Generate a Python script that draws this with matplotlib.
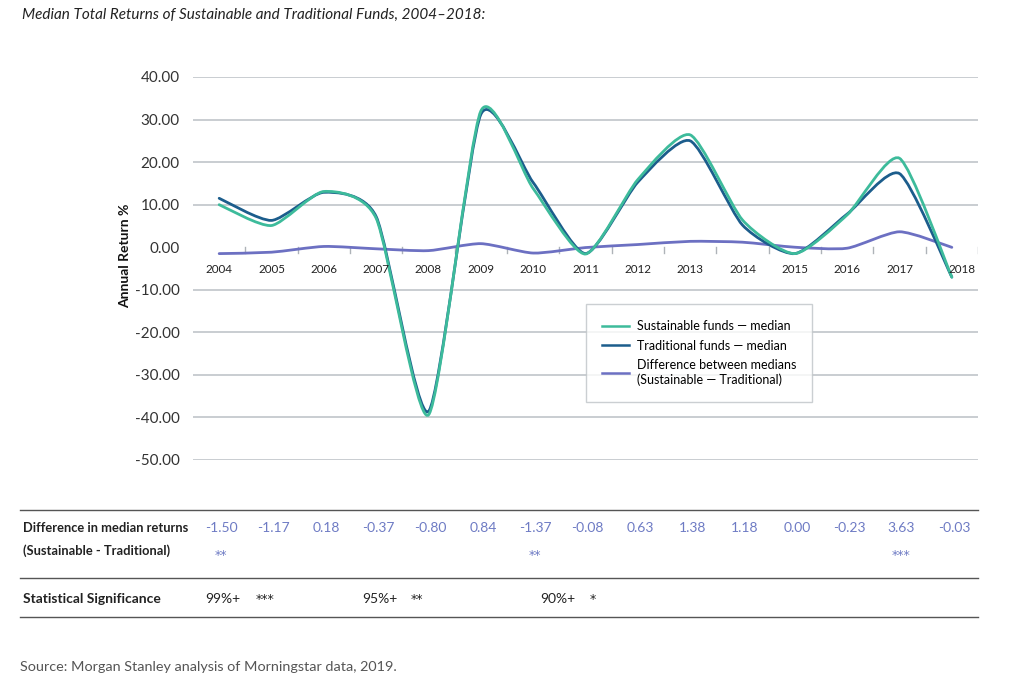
import numpy as np
import matplotlib
matplotlib.use("Agg")
import matplotlib.pyplot as plt
from matplotlib.path import Path
from matplotlib.patches import PathPatch
from matplotlib.lines import Line2D

plt.rcParams['font.family'] = ['Lato', 'DejaVu Sans']

# Data
years = [str(y) for y in range(2004, 2019)]
sustainable = [10.0, 5.1, 13.1, 6.8, -39.4, 32.0, 13.8, -1.6, 15.9, 26.4, 6.4, -1.5, 7.6, 20.9, -7.05]
traditional = [11.5, 6.3, 12.9, 7.2, -38.6, 31.2, 15.2, -1.5, 15.3, 25.0, 5.2, -1.5, 7.8, 17.3, -7.02]
difference = [-1.50, -1.17, 0.18, -0.37, -0.80, 0.84, -1.37, -0.08, 0.63, 1.38, 1.18, 0.00, -0.23, 3.63, -0.03]
diff_stars = ["**", "", "", "", "", "", "**", "", "", "", "", "", "", "***", ""]
yticks = [40, 30, 20, 10, 0, -10, -20, -30, -40, -50]

TEAL = "#3dbb9b"
NAVY = "#1c5d8c"
PURPLE = "#6c70c2"
VALUE_BLUE = "#6e7bc4"
GRID = "#c9cdd1"
TEXT = "#222222"


def smooth_path(xs, ys, k=0.11):
    # smoothed line: cubic Bezier segments through every point
    pts = np.column_stack([xs, ys]).astype(float)
    n = len(pts)
    verts = [pts[0]]
    codes = [Path.MOVETO]
    for i in range(n - 1):
        p0 = pts[i - 1] if i > 0 else pts[i]
        p1, p2 = pts[i], pts[i + 1]
        p3 = pts[i + 2] if i + 2 < n else pts[i + 1]
        c1 = p1 + (p2 - p0) * k
        c2 = p2 - (p3 - p1) * k
        verts += [c1, c2, p2]
        codes += [Path.CURVE4] * 3
    return Path(verts, codes)


fig = plt.figure(figsize=(10.24, 6.84), dpi=100)
ax = fig.add_axes([193 / 1024, 1 - 460 / 684, (978 - 193) / 1024, (460 - 77) / 684])

x = np.arange(len(years))
ax.set_xlim(-0.5, len(years) - 0.5)
ax.set_ylim(-50, 40)

for yv in yticks:
    if yv != 0:
        ax.axhline(yv, color=GRID, lw=1.4, zorder=1)

for series, color in [(difference, PURPLE), (traditional, NAVY), (sustainable, TEAL)]:
    ax.add_patch(PathPatch(smooth_path(x, series), facecolor="none",
                           edgecolor=color, lw=2.0, zorder=3, capstyle="round"))

for s in ax.spines.values():
    s.set_visible(False)
ax.set_yticks(yticks)
ax.set_yticklabels([f"{v:.2f}" for v in yticks], fontsize=11, color="#333333")
ax.tick_params(axis="y", length=0, pad=9.5)
ax.set_xticks([])

# category tick marks hanging from the zero line, and year labels below
for i in range(1, len(years) + 1):
    ax.plot([i - 0.5, i - 0.5], [0, -1.4], color="#aeb3b8", lw=1, zorder=2)
for i, yr in enumerate(years):
    ax.text(i + 0.2 if yr == "2018" else i, -5.2, yr, ha="center", va="center",
            fontsize=8.4, color=TEXT)

fig.text(125 / 1024, 1 - 256 / 684, "Annual Return %", rotation=90, ha="center",
         va="center", fontsize=10, fontweight="bold", color="#111111")

handles = [Line2D([], [], color=TEAL, lw=1.8), Line2D([], [], color=NAVY, lw=1.8),
           Line2D([], [], color=PURPLE, lw=1.8)]
labels = ["Sustainable funds \u2014 median", "Traditional funds \u2014 median",
          "Difference between medians\n(Sustainable \u2014 Traditional)"]
leg = ax.legend(handles, labels, loc="upper left", bbox_to_anchor=(0.50, 0.407),
                frameon=True, fancybox=False, fontsize=9, handlelength=2.2,
                handletextpad=0.6, borderpad=1.3, labelspacing=0.6,
                borderaxespad=0)
leg.get_frame().set_edgecolor("#bfc3c7")
leg.get_frame().set_linewidth(1.0)
leg.set_zorder(5)

fig.text(22 / 1024, 1 - 15 / 684, "Median Total Returns of Sustainable and Traditional Funds, 2004\u20132018:",
         fontsize=11, style="italic", color=TEXT, va="center")

# table under the chart
for yl in [510, 578, 617]:
    fig.add_artist(Line2D([20 / 1024, 978 / 1024], [1 - yl / 684] * 2, color="#555555", lw=1))

fig.text(23 / 1024, 1 - 528 / 684, "Difference in median returns", fontsize=9.3,
         fontweight="bold", color=TEXT, va="center")
fig.text(23 / 1024, 1 - 551 / 684, "(Sustainable - Traditional)", fontsize=9.3,
         fontweight="bold", color=TEXT, va="center")
for i, (d, st) in enumerate(zip(difference, diff_stars)):
    xf = (193 + (i + 0.5) * 785 / 15 + 2) / 1024
    fig.text(xf, 1 - 528 / 684, f"{d:.2f}", fontsize=10, color=VALUE_BLUE,
             ha="center", va="center")
    if st:
        fig.text(xf, 1 - 555 / 684, st, fontsize=9, color=VALUE_BLUE,
                 ha="center", va="center", family="DejaVu Sans")

fig.text(23 / 1024, 1 - 599 / 684, "Statistical Significance", fontsize=10,
         fontweight="bold", color=TEXT, va="center")
sig_levels = [("99%+", "***", 205, 256), ("95%+", "**", 362, 411), ("90%+", "*", 540, 590)]
for lvl, st, xl, xs in sig_levels:
    fig.text(xl / 1024, 1 - 599 / 684, lvl, fontsize=10, color=TEXT, va="center")
    fig.text(xs / 1024, 1 - 600 / 684, st, fontsize=9, color=TEXT, va="center",
             family="DejaVu Sans")

fig.text(20 / 1024, 1 - 667 / 684, "Source: Morgan Stanley analysis of Morningstar data, 2019.",
         fontsize=10.4, color="#555555", va="center")

fig.savefig("out.png", dpi=100)
